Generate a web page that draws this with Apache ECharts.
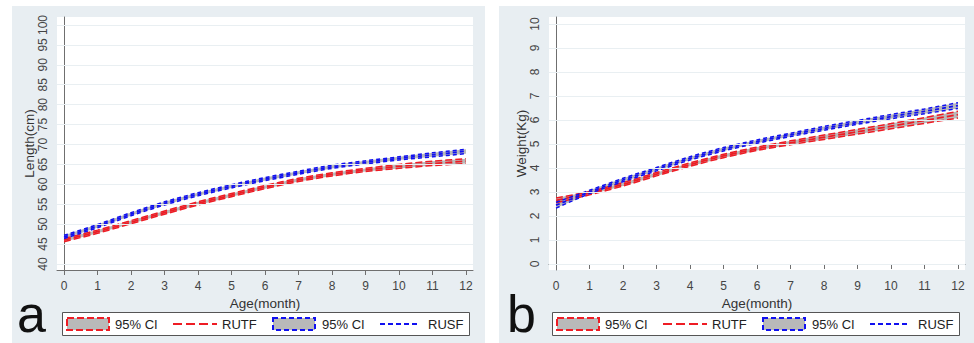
<!DOCTYPE html>
<html>
<head>
<meta charset="utf-8">
<script src="https://cdn.jsdelivr.net/npm/echarts@6/dist/echarts.min.js"></script>
<style>
html,body{margin:0;padding:0;background:#ffffff;}
#chart{width:974px;height:343px;}
</style>
</head>
<body>
<div id="chart"></div>
<script>
// ---- data ----
const months = [0,1,2,3,4,5,6,7,8,9,10,11,12];
const xTicks = [0,1,2,3,4,5,6,7,8,9,10,11,12];
const lenTicks = [40,45,50,55,60,65,70,75,80,85,90,95,100];
const wtTicks = [0,1,2,3,4,5,6,7,8,9,10];

const lenRUTF   = [46.0,48.1,50.5,52.9,55.2,57.3,59.3,61.1,62.5,63.6,64.5,65.2,65.8];
const lenRUTFlo = [45.6,47.7,50.1,52.5,54.8,56.9,58.9,60.7,62.1,63.2,64.0,64.7,65.2];
const lenRUTFhi = [46.4,48.5,50.9,53.3,55.6,57.7,59.7,61.5,62.9,64.0,65.0,65.8,66.4];
const lenRUSF   = [46.8,49.5,52.5,55.2,57.5,59.5,61.3,62.9,64.4,65.5,66.5,67.4,68.3];
const lenRUSFlo = [46.4,49.1,52.1,54.8,57.1,59.1,60.9,62.5,64.0,65.1,66.1,66.9,67.7];
const lenRUSFhi = [47.2,49.9,52.9,55.6,57.9,59.9,61.7,63.3,64.8,65.9,66.9,67.9,68.8];

const wtRUTF   = [2.65,2.95,3.32,3.74,4.14,4.50,4.80,5.05,5.28,5.51,5.74,5.98,6.22];
const wtRUTFlo = [2.55,2.88,3.25,3.67,4.07,4.43,4.73,4.97,5.19,5.41,5.63,5.86,6.08];
const wtRUTFhi = [2.75,3.02,3.39,3.81,4.21,4.57,4.87,5.13,5.37,5.61,5.85,6.10,6.36];
const wtRUSF   = [2.45,3.00,3.50,3.95,4.40,4.78,5.10,5.38,5.65,5.90,6.14,6.36,6.60];
const wtRUSFlo = [2.33,2.93,3.43,3.88,4.33,4.71,5.03,5.31,5.57,5.82,6.05,6.26,6.48];
const wtRUSFhi = [2.57,3.07,3.57,4.02,4.47,4.85,5.17,5.45,5.73,5.98,6.23,6.46,6.72];

// ---- style ----
const RED = '#ee1c24';
const BLUE = '#1010f0';
const GRAYFILL = '#b9b9b9';
const PANEL = '#e8eef2';
const GRIDC = '#e9eff2';
const FONT = '"Liberation Sans", Arial, sans-serif';
const SMOOTH = 0.3;

const pairs = (arr) => months.map((m, i) => [m, arr[i]]);

function xAxisDef(gi) {
  return {
    gridIndex: gi, type: 'value', min: -0.21, max: 12.21,
    name: 'Age(month)', nameLocation: 'middle', nameGap: 21,
    nameTextStyle: {fontFamily: FONT, fontSize: 13.5, color: '#333', verticalAlign: 'top'},
    axisLine: {show: true, lineStyle: {color: '#6f6f6f', width: 1}},
    axisTick: {show: true, length: 5, customValues: xTicks, lineStyle: {color: '#6f6f6f'}},
    axisLabel: {customValues: xTicks, margin: 10, fontFamily: FONT, fontSize: 12, color: '#444'},
    splitLine: {show: false}
  };
}
function yAxisDef(gi, name, min, max, ticks) {
  return {
    gridIndex: gi, type: 'value', min: min, max: max,
    name: name, nameLocation: 'middle', nameGap: 21, nameRotate: 90,
    nameTextStyle: {fontFamily: FONT, fontSize: 13.5, color: '#333'},
    axisLine: {show: true, lineStyle: {color: '#6f6f6f', width: 1}},
    axisTick: {show: true, length: 4, customValues: ticks, lineStyle: {color: '#6f6f6f'}},
    axisLabel: {customValues: ticks, rotate: 90, margin: 8, fontFamily: FONT, fontSize: 12, color: '#444'},
    splitLine: {show: false}
  };
}

// gray CI band drawn through the axes' scales (api.coord)
function bandFill(gi, lo, hi) {
  return {
    type: 'custom', xAxisIndex: gi, yAxisIndex: gi, silent: true, z: 2, clip: true,
    data: [[0]],
    renderItem: function (params, api) {
      const top = months.map((m, i) => api.coord([m, hi[i]]));
      const bot = months.map((m, i) => api.coord([m, lo[i]])).reverse();
      return {type: 'polygon', shape: {points: top.concat(bot)}, style: {fill: GRAYFILL, stroke: null}};
    }
  };
}
function lineSeries(gi, arr, color, dash, width, name) {
  return {
    name: name, type: 'line', xAxisIndex: gi, yAxisIndex: gi,
    data: pairs(arr), smooth: SMOOTH, showSymbol: false, symbol: 'none', z: 3,
    lineStyle: {color: color, width: width, type: dash}, silent: true
  };
}
function gridLineSeries(gi, ticks) {
  return {
    type: 'line', xAxisIndex: gi, yAxisIndex: gi, data: [[-1, ticks[0]]], z: 1, silent: true,
    showSymbol: false, symbol: 'none', lineStyle: {opacity: 0},
    markLine: {
      silent: true, symbol: 'none', label: {show: false},
      lineStyle: {color: GRIDC, type: 'solid', width: 1.2},
      emphasis: {disabled: true},
      data: ticks.map(v => ({yAxis: v}))
    }
  };
}

const redDash = [7, 3];
const blueDash = [4, 3];

function group(gi, lo, hi, mean, color, dash, name) {
  return [
    bandFill(gi, lo, hi),
    lineSeries(gi, lo, color, dash, 1.5, name + ' CI lower'),
    lineSeries(gi, hi, color, dash, 1.5, name + ' CI upper'),
    lineSeries(gi, mean, color, dash, 1.8, name)
  ];
}

function legendGraphic(ox) {
  const cy = 324;
  return {
    type: 'group', x: 0, y: 0, silent: true,
    children: [
      {type: 'rect', shape: {x: ox + 62.5, y: 312.5, width: 407, height: 23},
        style: {fill: '#ffffff', stroke: '#555', lineWidth: 1}},
      {type: 'rect', shape: {x: ox + 67, y: 318, width: 42, height: 12},
        style: {fill: GRAYFILL, stroke: RED, lineWidth: 2, lineDash: [7, 3]}},
      {type: 'text', x: ox + 115, y: cy,
        style: {text: '95% CI', font: '13px ' + FONT, fill: '#222', textVerticalAlign: 'middle'}},
      {type: 'line', shape: {x1: ox + 173, y1: cy, x2: ox + 217, y2: cy},
        style: {stroke: RED, lineWidth: 2, lineDash: [9, 4]}},
      {type: 'text', x: ox + 222, y: cy,
        style: {text: 'RUTF', font: '13px ' + FONT, fill: '#222', textVerticalAlign: 'middle'}},
      {type: 'rect', shape: {x: ox + 273, y: 318, width: 42, height: 12},
        style: {fill: GRAYFILL, stroke: BLUE, lineWidth: 2, lineDash: [5, 3]}},
      {type: 'text', x: ox + 322, y: cy,
        style: {text: '95% CI', font: '13px ' + FONT, fill: '#222', textVerticalAlign: 'middle'}},
      {type: 'line', shape: {x1: ox + 380, y1: cy, x2: ox + 418, y2: cy},
        style: {stroke: BLUE, lineWidth: 2, lineDash: [5, 3]}},
      {type: 'text', x: ox + 428, y: cy,
        style: {text: 'RUSF', font: '13px ' + FONT, fill: '#222', textVerticalAlign: 'middle'}}
    ]
  };
}

const chart = echarts.init(document.getElementById('chart'), null, {renderer: 'svg'});
const option = {
  animation: false,
  backgroundColor: '#ffffff',
  graphic: [
    {type: 'rect', z: -10, silent: true, shape: {x: 12, y: 6, width: 473, height: 337}, style: {fill: PANEL}},
    {type: 'rect', z: -10, silent: true, shape: {x: 499, y: 6, width: 475, height: 337}, style: {fill: PANEL}},
    legendGraphic(0),
    legendGraphic(490),
    {type: 'text', x: 17, y: 340, silent: true,
      style: {text: 'a', font: '52px ' + FONT, fill: '#111', textVerticalAlign: 'bottom'}},
    {type: 'text', x: 507, y: 340, silent: true,
      style: {text: 'b', font: '52px ' + FONT, fill: '#111', textVerticalAlign: 'bottom'}}
  ],
  grid: [
    {left: 57, top: 17, width: 416, height: 253, show: true, backgroundColor: '#ffffff', borderWidth: 0},
    {left: 549, top: 17, width: 416, height: 253, show: true, backgroundColor: '#ffffff', borderWidth: 0}
  ],
  xAxis: [xAxisDef(0), xAxisDef(1)],
  yAxis: [
    yAxisDef(0, 'Length(cm)', 38.49, 102.0, lenTicks),
    yAxisDef(1, 'Weight(Kg)', -0.25, 10.29, wtTicks)
  ],
  series: [
    gridLineSeries(0, lenTicks),
    gridLineSeries(1, wtTicks),
    ...group(0, lenRUTFlo, lenRUTFhi, lenRUTF, RED, redDash, 'RUTF'),
    ...group(0, lenRUSFlo, lenRUSFhi, lenRUSF, BLUE, blueDash, 'RUSF'),
    ...group(1, wtRUTFlo, wtRUTFhi, wtRUTF, RED, redDash, 'RUTF'),
    ...group(1, wtRUSFlo, wtRUSFhi, wtRUSF, BLUE, blueDash, 'RUSF')
  ]
};
chart.setOption(option);
</script>
</body>
</html>
